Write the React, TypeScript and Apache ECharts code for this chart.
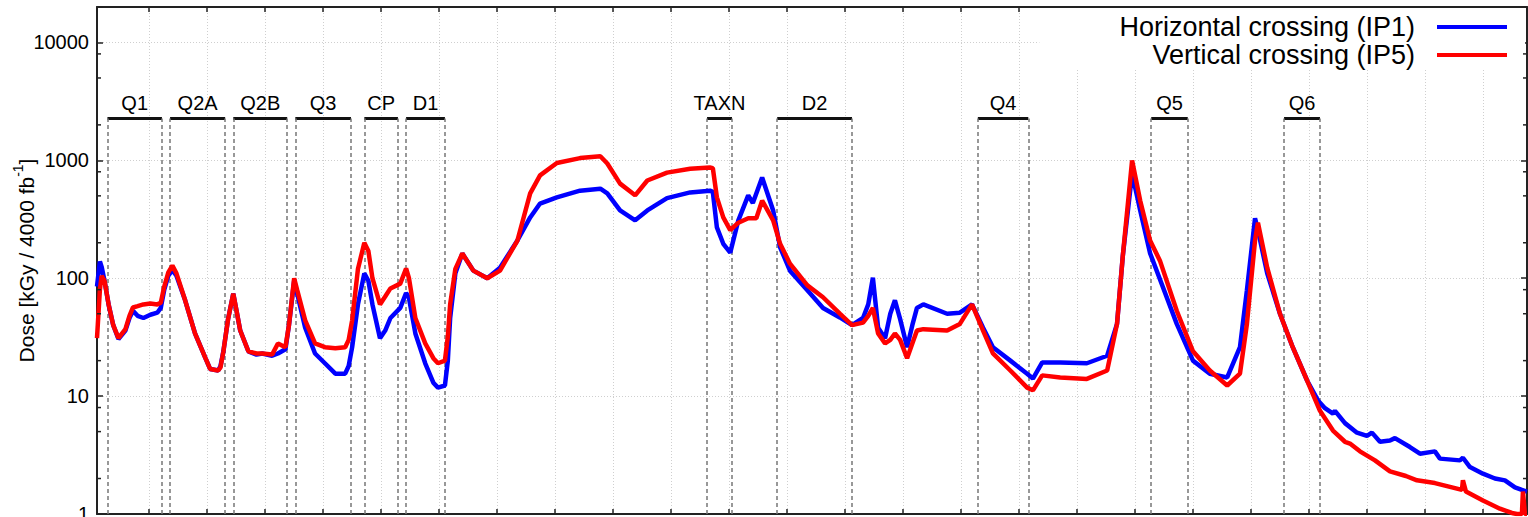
import React, { useEffect, useRef } from "react";
import * as echarts from "echarts";

// Distance from IP [m] and dose [kGy / 4000 fb^-1]
const ip1Pos = [
  21.0, 21.5, 21.8, 22.3, 23.0, 23.8, 24.7, 25.9, 26.6, 27.2, 28.0, 29.0, 30.2, 31.4, 32.0, 32.6, 33.3, 34.0, 34.7,
  36.2, 37.9, 39.7, 40.5, 41.9, 42.3, 42.8, 43.6, 44.5, 45.0, 45.7, 47.1, 48.5, 49.5, 51.2, 52.2, 53.5, 54.1, 55.0,
  55.5, 56.9, 58.6, 60.3, 62.1, 63.8, 64.4, 65.0, 66.0, 67.1, 67.8, 68.5, 69.8, 70.7, 71.6, 73.3, 74.3, 74.8, 75.9,
  77.6, 79.0, 79.8, 81.0, 81.5, 81.9, 82.8, 84.0, 85.9, 88.3, 90.5, 93.5, 95.7, 97.4, 100.3, 104.3, 107.8, 109.0,
  111.2, 113.8, 115.9, 119.3, 123.3, 126.7, 127.2, 127.9, 129.0, 130.2, 131.6, 133.3, 134.1, 135.7, 137.6, 138.8,
  140.5, 143.5, 146.2, 149.1, 151.2, 153.1, 154.0, 154.8, 155.7, 156.9, 157.8, 158.6, 159.5, 160.7, 161.6, 162.4,
  163.5, 167.6, 169.8, 171.9, 173.8, 175.5, 178.5, 181.4, 182.4, 184.0, 187.1, 191.7, 195.2, 196.9, 197.9, 199.5,
  200.9, 202.6, 204.3, 207.2, 210.0, 212.9, 215.9, 218.1, 219.3, 220.7, 221.2, 222.8, 225.0, 227.2, 229.7, 231.55,
  232.76, 234.14, 234.48, 236.21, 238.28, 240.0, 240.86, 242.24, 243.97, 244.83, 247.41, 249.14, 251.72, 252.59,
  256.03, 256.55, 257.76, 260.0, 262.07, 263.79, 265.52, 266.72, 267.6,
];
const ip1Dose = [
  85, 139, 125, 95, 60, 40, 30.5, 36, 46, 53, 48, 46, 49, 51, 56, 80, 105, 117, 105,
  65, 34, 21, 17, 16.5, 18, 24, 45, 74, 55, 36, 24, 22.5, 23, 22, 23, 25, 40, 95,
  75, 38, 23, 19, 15.5, 15.5, 18, 26, 60, 110, 95, 60, 31, 36, 46, 56, 75, 68, 34,
  19, 13, 11.8, 12.3, 20, 46, 110, 162, 116, 100, 123, 209, 328, 430, 485, 553, 575, 525,
  376, 310, 376, 478, 535, 553, 540, 270, 196, 165, 310, 505, 435, 716, 376, 183,
  116, 79, 56, 46.5, 40, 46, 60, 101, 38, 31, 50, 65, 45, 26, 40, 56,
  60, 50, 51, 60, 38, 26, 20, 15.5, 14.1, 19.3, 19.3, 19, 22, 41, 155, 772,
  376, 163, 98, 41, 20, 15.5, 14.4, 26, 79, 322, 256, 110, 50, 26, 13.5, 9.2,
  7.9, 7.1, 7.5, 5.9, 4.9, 4.6, 4.9, 4.1, 4.2, 4.4, 3.7, 3.25, 3.4, 2.95,
  2.85, 3.0, 2.5, 2.2, 2.0, 1.93, 1.68, 1.6, 1.55,
];

const ip5Pos = [
  21.0, 21.5, 21.8, 22.3, 23.0, 23.8, 24.7, 25.9, 26.6, 27.2, 28.0, 29.0, 30.2, 31.4, 32.0, 32.6, 33.3, 34.0, 34.7,
  36.2, 37.9, 39.7, 40.5, 41.9, 42.3, 42.8, 43.6, 44.5, 45.0, 45.7, 47.1, 48.5, 49.5, 51.2, 52.2, 53.5, 54.1, 55.0,
  55.5, 56.9, 58.6, 60.3, 62.1, 63.8, 64.4, 65.0, 66.0, 67.1, 67.8, 68.5, 69.8, 70.7, 71.6, 73.3, 74.3, 74.8, 75.9,
  77.6, 79.0, 79.8, 81.0, 81.5, 81.9, 82.8, 84.0, 85.9, 88.3, 90.5, 93.5, 95.7, 97.4, 100.3, 104.3, 107.8, 109.0,
  111.2, 113.8, 115.9, 119.3, 123.3, 126.7, 127.2, 127.9, 129.0, 130.2, 131.6, 133.3, 134.7, 135.7, 137.6, 138.8,
  140.5, 143.5, 146.2, 149.1, 151.2, 153.1, 154.0, 154.8, 155.7, 156.9, 157.8, 158.6, 159.5, 160.7, 161.6, 162.4,
  163.5, 167.6, 169.8, 171.9, 173.8, 175.5, 178.5, 181.4, 182.4, 184.0, 187.1, 191.7, 195.2, 196.9, 197.9, 199.5,
  200.9, 202.6, 204.3, 207.2, 210.0, 212.9, 215.9, 218.1, 219.3, 220.7, 221.2, 222.8, 225.0, 227.2, 229.7, 231.9,
  234.14, 236.21, 237.07, 238.79, 241.38, 243.97, 246.72, 248.62, 251.72, 254.31, 256.38, 256.55, 257.07, 260.0,
  262.93, 265.0, 265.86, 266.72, 266.9, 267.24, 267.6,
];
const ip5Dose = [
  31, 80, 105, 95, 60, 40, 31, 37, 48, 56.5, 58, 60, 61, 60, 62, 85, 112, 128, 110,
  65, 34, 21, 17, 16.5, 17.5, 24, 45, 74, 55, 36, 24, 23, 23, 22.5, 28, 26, 40, 100,
  80, 44, 28, 26, 25.5, 26, 30, 44, 120, 200, 170, 100, 60, 70, 82, 90, 121, 100, 46,
  28, 21, 19, 20, 32, 60, 120, 162, 116, 100, 116, 209, 524, 746, 950, 1045, 1085, 940,
  635, 505, 675, 787, 850, 870, 860, 485, 328, 256, 296, 323, 323, 455, 310, 196,
  133, 87, 69, 50, 40, 42, 48, 56, 34, 28, 30, 34, 30, 21, 28, 36,
  37, 36, 41, 60, 36, 23, 16.5, 11.8, 11.2, 15, 14.4, 14, 16.5, 41, 155, 1000,
  455, 209, 141, 53, 24, 16.5, 12.3, 15.5, 41, 209, 296, 123, 50, 26, 13.5, 7.5,
  5.1, 4.1, 3.96, 3.4, 2.85, 2.3, 2.1, 1.93, 1.83, 1.7, 1.6, 1.93, 1.55, 1.3,
  1.11, 1.02, 1.0, 1.0, 1.55, 1.0, 1.0,
];

const seriesNames = ["Horizontal crossing (IP1)", "Vertical crossing (IP5)"];
const seriesColors = ["#0000ff", "#ff0000"];

const elementNames = ["Q1", "Q2A", "Q2B", "Q3", "CP", "D1", "TAXN", "D2", "Q4", "Q5", "Q6"];
const elementStart = [22.8, 33.6, 44.5, 55.2, 67.1, 74.3, 126.2, 138.3, 172.9, 202.8, 225.7];
const elementEnd = [32.2, 43.1, 53.8, 64.8, 72.9, 81.0, 130.5, 151.2, 181.6, 209.1, 231.9];
const elementLevel = 2270;

const minorTickValues = [2, 5, 8, 20, 50, 80, 200, 500, 800, 2000, 5000, 8000];

const X_MIN = 21;
const X_MAX = 267.6;
const Y_MIN = 1;
const Y_MAX = 20000;

const FONT = "'Liberation Sans', Arial, Helvetica, sans-serif";

export default function App() {
  const ref = useRef<HTMLDivElement>(null);

  useEffect(() => {
    if (!ref.current) return;
    const chart = echarts.init(ref.current, undefined, { renderer: "svg" });

    const axisLineStyle = { color: "#222", width: 2 };
    const tickStyle = { color: "#222", width: 1.5 };
    const gridStyle = { color: "#cfcfcf", width: 1, type: [1, 2] as any };

    const markData: any[] = [];
    elementNames.forEach((name, i) => {
      markData.push([
        {
          coord: [elementStart[i], elementLevel],
          lineStyle: { type: "solid", width: 3, color: "#111" },
          label: { show: true, position: "middle", formatter: name, fontSize: 20, color: "#000", fontFamily: FONT, distance: 5 },
        },
        { coord: [elementEnd[i], elementLevel] },
      ]);
      [elementStart[i], elementEnd[i]].forEach((x) => {
        markData.push([
          { coord: [x, Y_MIN], lineStyle: { type: [4, 3], width: 1.5, color: "#777" }, label: { show: false } },
          { coord: [x, elementLevel] },
        ]);
      });
    });

    const isDecade = (v: number) => {
      const l = Math.log10(v);
      return Math.abs(l - Math.round(l)) < 1e-6;
    };

    chart.setOption({
      animation: false,
      textStyle: { fontFamily: FONT },
      grid: { left: 97, right: 1, top: 7, bottom: 3, containLabel: false, outerBoundsMode: "none" },
      legend: {
        data: seriesNames,
        orient: "vertical",
        right: 3,
        top: 8,
        align: "right",
        icon: "rect",
        itemWidth: 70,
        itemHeight: 4,
        itemGap: 0,
        selectedMode: false,
        backgroundColor: "#fff",
        padding: [5, 18, 1, 80],
        textStyle: { fontSize: 27, color: "#000", fontFamily: FONT, lineHeight: 28, padding: [0, 17, 0, 0] },
      },
      xAxis: [
        {
          type: "value",
          min: X_MIN,
          max: X_MAX,
          minInterval: 10,
          maxInterval: 10,
          position: "bottom",
          axisLine: { show: true, lineStyle: axisLineStyle },
          axisTick: { show: true, inside: true, length: 5, lineStyle: tickStyle },
          axisLabel: { show: false },
          splitLine: { show: true, lineStyle: gridStyle },
        },
        {
          type: "value",
          min: X_MIN,
          max: X_MAX,
          minInterval: 10,
          maxInterval: 10,
          position: "top",
          axisLine: { show: true, lineStyle: axisLineStyle },
          axisTick: { show: true, inside: true, length: 5, lineStyle: tickStyle },
          axisLabel: { show: false },
          splitLine: { show: false },
        },
      ],
      yAxis: [
        {
          type: "log",
          logBase: 10,
          min: Y_MIN,
          max: Y_MAX,
          position: "left",
          axisLine: { show: true, lineStyle: axisLineStyle },
          axisTick: { show: true, inside: true, length: 6, lineStyle: tickStyle },
          axisLabel: {
            fontSize: 20,
            color: "#000",
            margin: 8,
            fontFamily: FONT,
            formatter: (v: number) => (isDecade(v) ? String(Math.round(v)) : ""),
          },
          splitLine: { show: true, lineStyle: gridStyle },
          name: "{t|Dose [kGy / 4000 fb}{s|-1}{t|]}",
          nameLocation: "middle",
          nameGap: 60,
          nameMoveOverlap: false,
          nameTextStyle: {
            rich: {
              t: { fontSize: 21, color: "#000", fontFamily: FONT, lineHeight: 26, verticalAlign: "bottom" },
              s: { fontSize: 14, color: "#000", fontFamily: FONT, lineHeight: 14, verticalAlign: "top" },
            },
          },
        },
        {
          type: "log",
          logBase: 10,
          min: Y_MIN,
          max: Y_MAX,
          position: "right",
          axisLine: { show: true, lineStyle: axisLineStyle },
          axisTick: { show: true, inside: true, length: 6, lineStyle: tickStyle },
          axisLabel: { show: false },
          splitLine: { show: false },
        },
      ],
      series: [
        {
          name: "elements",
          type: "line",
          data: [],
          z: 1,
          silent: true,
          markLine: {
            z: 1,
            silent: true,
            symbol: "none",
            animation: false,
            data: markData,
          },
        },
        {
          name: "minorTicks",
          type: "custom",
          silent: true,
          z: 6,
          clip: false,
          data: minorTickValues.map((v) => [X_MIN, v]),
          renderItem: (params: any, api: any) => {
            const v = api.value(1);
            const p = api.coord([X_MIN, v]);
            const q = api.coord([X_MAX, v]);
            const st = { stroke: "#222", lineWidth: 1.5 };
            return {
              type: "group",
              children: [
                { type: "line", shape: { x1: p[0], y1: p[1], x2: p[0] + 4, y2: p[1] }, style: st },
                { type: "line", shape: { x1: q[0] - 4, y1: q[1], x2: q[0], y2: q[1] }, style: st },
              ],
            };
          },
        },
        {
          name: seriesNames[0],
          type: "line",
          color: seriesColors[0],
          data: ip1Pos.map((x, i) => [x, ip1Dose[i]]),
          showSymbol: false,
          symbol: "none",
          lineStyle: { width: 4.5, color: seriesColors[0] },
          z: 3,
        },
        {
          name: seriesNames[1],
          type: "line",
          color: seriesColors[1],
          data: ip5Pos.map((x, i) => [x, ip5Dose[i]]),
          showSymbol: false,
          symbol: "none",
          lineStyle: { width: 4.5, color: seriesColors[1] },
          z: 4,
        },
      ],
    });

    return () => chart.dispose();
  }, []);

  return (
    <div
      ref={ref}
      style={{ position: "absolute", left: 0, top: 0, width: 1528, height: 517, background: "#fff" }}
    />
  );
}
